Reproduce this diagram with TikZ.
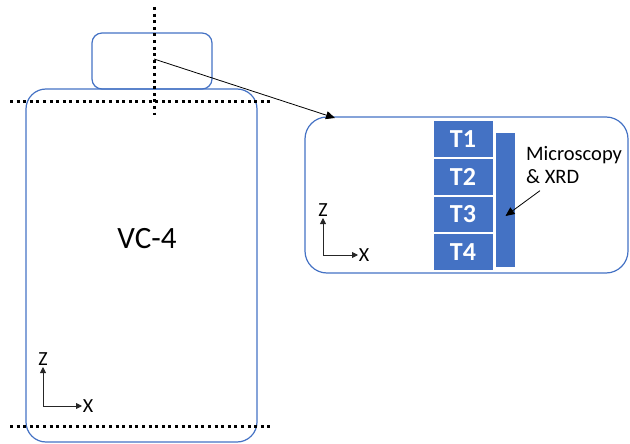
\documentclass[tikz,border=0pt]{standalone}
\usepackage{fontspec}
\setmainfont{Carlito}
\usetikzlibrary{arrows.meta, positioning}

\definecolor{boxblue}{RGB}{68,114,196}

\begin{document}
\begin{tikzpicture}[
  x=1pt, y=-1pt,
  every node/.style = {font=\fontsize{16}{19}\selectfont},
  outline/.style = {
    draw=boxblue,
    line width=1.2pt,
    inner sep=0pt
  },
  layer/.style = {
    fill=boxblue,
    draw=white,
    line width=1pt,
    minimum width=60pt,
    minimum height=36.5pt,
    inner sep=0pt,
    text=white,
    font=\fontsize{26}{28}\selectfont\bfseries
  },
  cut/.style = {
    line width=3pt,
    dash pattern=on 3pt off 3.6pt
  },
  arrow/.style = {
    -{Triangle[length=9pt,width=8pt]},
    line width=0.8pt
  },
  axis/.style = {
    -{Triangle[length=6pt,width=6pt]},
    line width=0.9pt,
    black!85
  },
  axlabel/.style = {
    black,
    inner sep=0.5pt,
    font=\fontsize{20}{22}\selectfont
  }
]
\useasboundingbox (0,0) rectangle (630,444);

% sample and its neck
\node[outline, rounded corners=20pt, minimum width=231pt, minimum height=353pt] (body) at (141.5,265.5) {};
\node[outline, rounded corners=10pt, minimum width=120pt, minimum height=56pt] (neck) at (152,61) {};
\node[font=\fontsize{31}{34}\selectfont] (vc) at (147,239) {VC-4};

% cut lines
\draw[cut] (10,102) -- (270,102);
\draw[cut] (10,426) -- (270,426);
\draw[cut] (154,7) -- (154,115);

% magnified slice
\node[outline, rounded corners=22pt, minimum width=323pt, minimum height=156pt] (slice) at (466.5,195) {};
\node[layer] (t1) at (463,139.25) {T1};
\node[layer, below=0pt of t1] (t2) {T2};
\node[layer, below=0pt of t2] (t3) {T3};
\node[layer, below=0pt of t3] (t4) {T4};
\node[fill=boxblue, minimum width=19pt, minimum height=134pt, inner sep=0pt] (bar) at (505.5,200) {};
\node[anchor=north west, align=left, inner sep=0pt, font=\fontsize{20.5}{23}\selectfont] (label) at (526,146) {Microscopy\\\& XRD};

\coordinate (neckpt) at (154,59);
\coordinate (tip) at (335,118);
\draw[arrow] (neckpt) -- (tip);
\draw[arrow] ([xshift=14pt, yshift=-7pt]label.south west) -- ([yshift=-16pt]bar.center);

% axes, full sample
\coordinate (o1) at (43,406);
\draw[axis] (o1) -- ++(0,-39) node[axlabel, above=1pt] (z1) {Z};
\draw[axis] (o1) -- ++(39,0) node[axlabel, right=0pt] (x1) {X};

% axes, slice
\coordinate (o2) at (323,255);
\draw[axis] (o2) -- ++(0,-37) node[axlabel, above=1pt] (z2) {Z};
\draw[axis] (o2) -- ++(35,0) node[axlabel, right=0pt] (x2) {X};
\end{tikzpicture}
\end{document}
